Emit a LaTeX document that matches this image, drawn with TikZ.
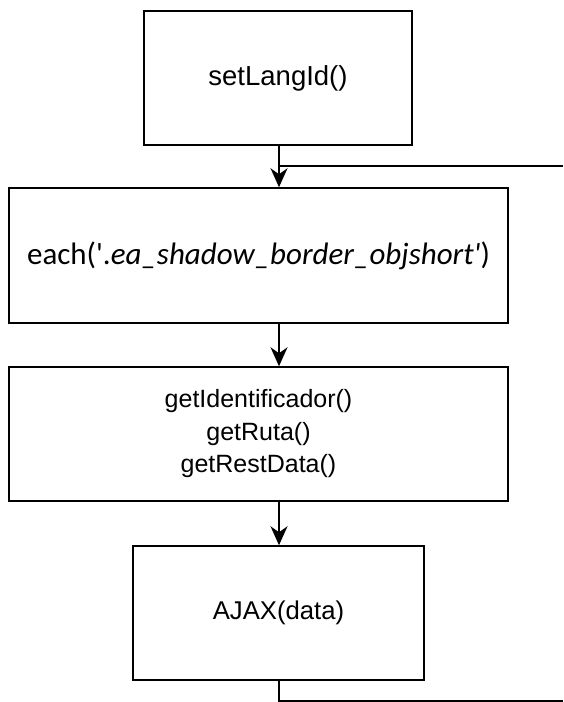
\documentclass[tikz,border=0pt]{standalone}
\usepackage{fontspec}
\setmainfont{Liberation Sans}
\newfontfamily\calibrilike{Carlito}
\usetikzlibrary{arrows.meta}
\begin{document}
\begin{tikzpicture}[x=1pt,y=-1pt,
  stepbox/.style={draw=black,line width=1.5pt,fill=white,inner sep=0pt,
    minimum height=134pt,align=center,font=\fontsize{25}{32.5}\selectfont},
  flow/.style={draw=black,line width=1.5pt},
  flowarrow/.style={flow,-{Stealth[length=19pt,width=17pt,inset=6pt]}}]
\useasboundingbox (0,0) rectangle (563,702);
\fill[white] (0,0) rectangle (563,702);

\node[stepbox,minimum width=268pt,font=\fontsize{27.5}{33}\selectfont] (setlang) at (278,78) {setLangId()};
\node[stepbox,minimum width=499pt,minimum height=135pt] (each) at (258.5,255.5)
  {{\calibrilike\fontsize{31}{36}\selectfont each('.\textit{ea\_shadow\_border\_objshort'})}};
\node[stepbox,minimum width=499pt] (getters) at (258.5,434)
  {getIdentificador()\\getRuta()\\getRestData()};
\node[stepbox,minimum width=291pt,font=\fontsize{25.7}{31}\selectfont] (ajax) at (278.5,613) {AJAX(data)};

% loop return line entering above "each"
\coordinate (loopjoin) at (279,166);
\coordinate (loopend) at (563,166);
\draw[flow] (loopjoin) -- (loopend);

\draw[flowarrow] (setlang.south -| loopjoin) -- (each.north -| loopjoin);
\draw[flowarrow] (each.south -| loopjoin) -- (getters.north -| loopjoin);
\draw[flowarrow] (getters.south -| loopjoin) -- (ajax.north -| loopjoin);

% exit line from AJAX back to the loop
\coordinate (exitcorner) at (279,701);
\coordinate (exitend) at (563,701);
\draw[flow] (ajax.south -| loopjoin) -- (exitcorner) -- (exitend);
\end{tikzpicture}
\end{document}
